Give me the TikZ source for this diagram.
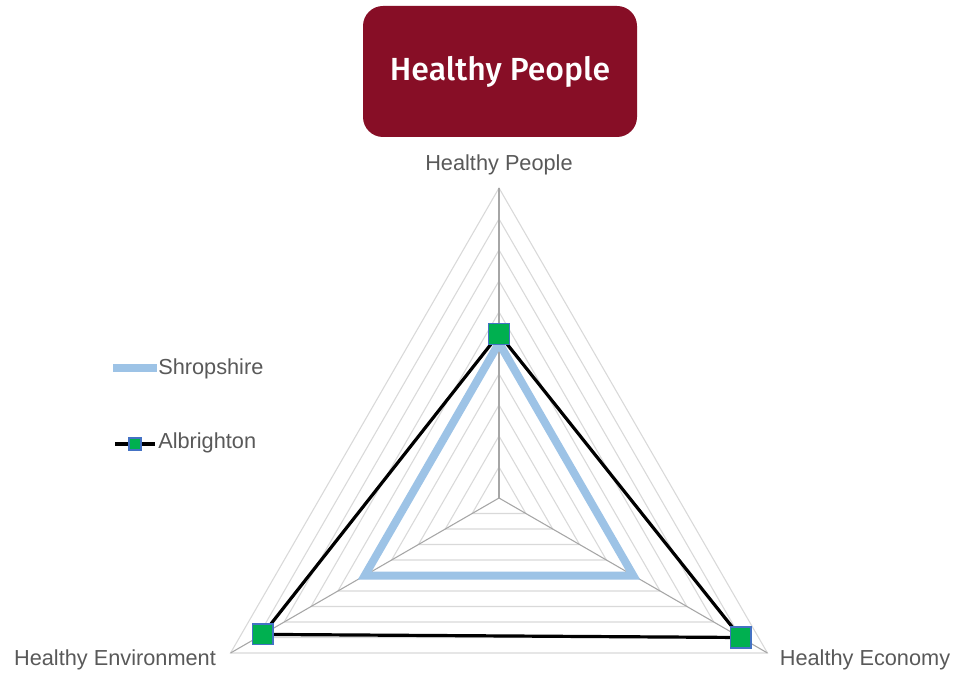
\documentclass[tikz,border=0pt]{standalone}
\usepackage{fontspec}
\setmainfont{Liberation Sans}
\newfontfamily\titlefont{Fira Sans Medium}
\definecolor{titlered}{HTML}{870E26}
\definecolor{labelgray}{HTML}{595959}
\definecolor{ringgray}{HTML}{D9D9D9}
\definecolor{spokegray}{HTML}{A6A6A6}
\definecolor{shropblue}{HTML}{9DC3E6}
\definecolor{mkgreen}{HTML}{00B050}
\definecolor{mkblue}{HTML}{4472C4}
\tikzset{
  ring/.style={draw=ringgray, line width=0.8pt},
  spoke/.style={draw=spokegray, line width=0.8pt},
  shropline/.style={draw=shropblue, line width=6pt},
  albline/.style={draw=black, line width=2.4pt},
  mk/.style={rectangle, fill=mkgreen, draw=mkblue, line width=1.1pt, minimum size=15.5pt, inner sep=0pt},
  mksmall/.style={rectangle, fill=mkgreen, draw=mkblue, line width=0.8pt, minimum size=9pt, inner sep=0pt},
  axislabel/.style={text=labelgray, font=\fontsize{16.3pt}{19pt}\selectfont, inner sep=0pt},
  titlebox/.style={rectangle, rounded corners=15pt, fill=titlered, text=white,
    minimum width=205.5pt, minimum height=98.25pt, inner sep=0pt,
    font=\titlefont\fontsize{24pt}{28pt}\selectfont}
}
\begin{document}
\begin{tikzpicture}[x=0.75pt,y=-0.75pt]
\useasboundingbox (0,0) rectangle (953,673);
\fill[white] (0,0) rectangle (953,673);

% title
\node[titlebox] (title) at (500,71.5) {Healthy People};

% centre and axis vertices
\coordinate (O) at (499,498);
\coordinate (VT) at (499,188);
\coordinate (VL) at (230.53,653);
\coordinate (VR) at (767.47,653);

% grid rings
\foreach \i in {1,...,10}{
  \draw[ring] (499,498-31*\i) -- (499-26.847*\i,498+15.5*\i) -- (499+26.847*\i,498+15.5*\i) -- cycle;
}
% spokes
\draw[spoke] (O) -- (VT);
\draw[spoke] (O) -- (VL);
\draw[spoke] (O) -- (VR);

% axis labels
\node[axislabel] (lbtop) at (499,165) {Healthy People};
\node[axislabel] (lbleft) at (115,660) {Healthy Environment};
\node[axislabel] (lbright) at (865,660) {Healthy Economy};

% Shropshire series
\coordinate (s1) at (499,343);
\coordinate (s2) at (364.76,575.5);
\coordinate (s3) at (633.24,575.5);
\draw[shropline] (s1) -- (s2) -- (s3) -- cycle;

% Albrighton series
\coordinate (a1) at (499,334);
\coordinate (a2) at (262.7,634.4);
\coordinate (a3) at (740.6,637.5);
\draw[albline] (a1) -- (a2) -- (a3) -- cycle;
\node[mk] (m1) at (a1) {};
\node[mk] (m2) at (a2) {};
\node[mk] (m3) at (a3) {};

% legend
\coordinate (la) at (113,368);
\coordinate (lb) at (157,368);
\draw[draw=shropblue, line width=6pt] (la) -- (lb);
\node[axislabel, anchor=west] (legs) at (158,369) {Shropshire};

\coordinate (lc) at (115,444);
\coordinate (ld) at (155,444);
\draw[albline] (lc) -- (ld);
\node[mksmall] (lm) at (135,444) {};
\node[axislabel, anchor=west] (lega) at (158,443) {Albrighton};
\end{tikzpicture}
\end{document}
